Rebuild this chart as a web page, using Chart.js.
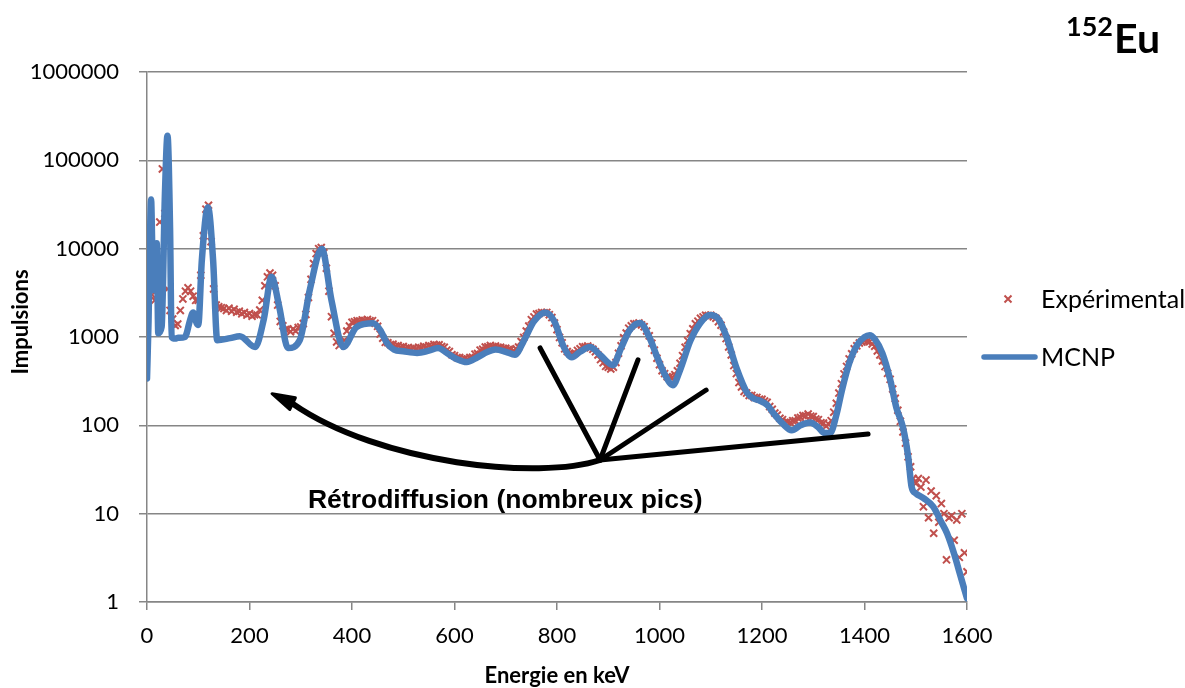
<!DOCTYPE html>
<html>
<head>
<meta charset="utf-8">
<script src="https://cdn.jsdelivr.net/npm/chart.js@4.4.1/dist/chart.umd.min.js"></script>
<style>
  html, body { margin: 0; padding: 0; background: #fff; }
  canvas { display: block; }
</style>
</head>
<body>
<canvas id="spectre" width="1185" height="688"></canvas>
<script>
// Experimental spectrum, one value every 5 keV from 0 to 1600 keV
const EXP_STEP_KEV = 5;
const expCounts = [
  10000, 4200, 3000, 2600, 3000, 20000, 80000, 25000, 3500, 2000,
  1600, 1350, 1400, 2000, 2700, 3300, 3600, 3300, 2900, 2600,
  2600, 5000, 14000, 28000, 31000, 12000, 3500, 2300, 2200, 2150,
  2100, 2000, 2120, 1960, 2060, 1910, 1960, 1830, 1900, 1770,
  1840, 1720, 1790, 1780, 2020, 2600, 3800, 4800, 5300, 5000,
  3800, 2300, 1500, 1340, 1220, 1230, 1150, 1230, 1170, 1280,
  1300, 1420, 1800, 2800, 4500, 6800, 8800, 10000, 10300, 9000,
  6000, 3300, 1700, 1100, 880, 800, 860, 920, 1170, 1330,
  1470, 1490, 1530, 1520, 1560, 1540, 1580, 1530, 1530, 1430,
  1320, 1080, 970, 870, 860, 820, 830, 790, 800, 770,
  780, 750, 760, 735, 750, 735, 765, 755, 785, 770,
  800, 790, 825, 810, 815, 780, 765, 710, 685, 630,
  615, 585, 585, 560, 570, 565, 585, 590, 640, 650,
  710, 725, 770, 775, 800, 780, 790, 765, 765, 745,
  745, 720, 725, 700, 735, 770, 890, 990, 1170, 1330,
  1570, 1690, 1820, 1840, 1900, 1880, 1900, 1790, 1660, 1440,
  1210, 990, 860, 735, 685, 650, 645, 655, 705, 735,
  775, 775, 790, 755, 725, 680, 625, 555, 510, 465,
  455, 435, 455, 515, 655, 795, 980, 1110, 1260, 1340,
  1410, 1410, 1440, 1370, 1310, 1170, 1030, 850, 710, 575,
  485, 415, 385, 355, 355, 345, 375, 415, 505, 615,
  765, 910, 1090, 1240, 1410, 1510, 1630, 1690, 1760, 1750,
  1760, 1690, 1630, 1490, 1360, 1140, 960, 770, 625, 475,
  385, 305, 272, 242, 232, 218, 218, 207, 207, 198,
  197, 188, 182, 163, 152, 138, 131, 120, 116, 108,
  109, 108, 113, 113, 121, 123, 129, 128, 134, 127,
  126, 118, 116, 107, 106, 98, 103, 113, 141, 178,
  232, 296, 382, 465, 565, 645, 735, 795, 855, 875,
  905, 895, 885, 835, 785, 695, 625, 535, 462, 388,
  332, 258, 202, 148, 111, 84, 63, 44, 34, 25,
  22, 25, 20, 12, 24, 9, 18, 6, 16, 8,
  13, 10, 3, 9, 9.5, 5, 8.5, 3.2, 10, 3.6,
  2.2
];

// MCNP simulation: energy (keV) and counts
const mcnpEnergy = [
  0, 3, 6, 8, 10, 12, 15, 19, 22, 28.5,
  35, 40, 45, 48, 55, 61, 74, 84, 90, 97,
  100, 107, 119, 129, 137, 162, 181, 211, 228, 243,
  258, 275, 298, 318, 341, 360, 383, 409, 441, 455,
  468, 482, 500, 527, 550, 568, 585, 605, 624, 645,
  665, 680, 700, 718, 735, 755, 777, 795, 812, 829,
  845, 864, 885, 909, 925, 942, 962, 980, 995, 1010,
  1026, 1040, 1060, 1080, 1098, 1115, 1131, 1150, 1171, 1185,
  1196, 1210, 1222, 1240, 1258, 1275, 1294, 1310, 1322, 1333,
  1345, 1356, 1370, 1385, 1400, 1410, 1420, 1435, 1450, 1462,
  1475, 1485, 1492, 1500, 1515, 1534, 1550, 1561, 1575, 1585,
  1600
];
const mcnpCounts = [
  340, 1500, 15000, 36000, 12000, 3400, 7000, 11500, 1100, 1300,
  42000, 190000, 17000, 1000, 960, 980, 1000, 1550, 1900, 1430,
  1370, 7400, 29500, 7400, 920, 970, 1020, 770, 1600, 4800,
  2200, 750, 920, 3500, 10000, 2600, 770, 1300, 1430, 1200,
  860, 720, 690, 660, 700, 750, 660, 560, 520, 590,
  680, 720, 680, 630, 900, 1500, 1900, 1500, 800, 590,
  680, 770, 620, 480, 750, 1200, 1440, 1000, 600, 380,
  285, 420, 900, 1450, 1780, 1600, 1000, 450, 233, 200,
  190, 170, 138, 105, 88, 100, 108, 95, 82, 82,
  130, 250, 500, 800, 1000, 1050, 950, 650, 330, 160,
  95, 45, 20, 17, 15, 12, 8, 6, 3.5, 2.2,
  1.1
];

const X_MIN = 0, X_MAX = 1600, X_STEP = 200;
const yTicks = [1, 10, 100, 1000, 10000, 100000, 1000000];

// "Rétrodiffusion" annotation, anchored in data space (keV, counts)
const retroHub = [884, 40.5];
const retroRays = [[767, 751], [958, 550], [1091, 251], [1407, 80]];
const retroCurve = [[767, 24], [455, 36], [284, 176]];
const retroArrowTip = [244, 228];
const retroLabel = 'Rétrodiffusion (nombreux pics)';
const retroLabelAt = [699, 11.6];

const RED = '#c0504d';
const BLUE = '#4a7ebb';
const GRID = '#868686';

const expPoints = expCounts.map((c, i) => ({ x: i * EXP_STEP_KEV, y: c }));
const mcnpPoints = mcnpEnergy.map((e, i) => ({ x: e, y: mcnpCounts[i] }));

const decorations = {
  id: 'decorations',
  afterDatasetsDraw(chart) {
    const { ctx, scales: { x, y } } = chart;
    const px = p => [x.getPixelForValue(p[0]), y.getPixelForValue(p[1])];
    ctx.save();
    ctx.strokeStyle = '#000';
    ctx.fillStyle = '#000';
    ctx.lineCap = 'round';
    ctx.lineWidth = 5;
    const hub = px(retroHub);
    retroRays.forEach(r => {
      const q = px(r);
      ctx.beginPath();
      ctx.moveTo(hub[0], hub[1]);
      ctx.lineTo(q[0], q[1]);
      ctx.stroke();
    });
    const c1 = px(retroCurve[0]), c2 = px(retroCurve[1]), c3 = px(retroCurve[2]);
    ctx.lineWidth = 6;
    ctx.beginPath();
    ctx.moveTo(hub[0], hub[1]);
    ctx.bezierCurveTo(c1[0], c1[1], c2[0], c2[1], c3[0], c3[1]);
    ctx.stroke();
    // arrow head
    const tip = px(retroArrowTip);
    const dx = tip[0] - c3[0], dy = tip[1] - c3[1];
    const len = Math.hypot(dx, dy);
    const nx = -dy / len * 6.5, ny = dx / len * 6.5;
    ctx.beginPath();
    ctx.moveTo(tip[0], tip[1]);
    ctx.lineTo(c3[0] + nx, c3[1] + ny);
    ctx.lineTo(c3[0] - nx, c3[1] - ny);
    ctx.closePath();
    ctx.lineWidth = 3;
    ctx.lineJoin = 'round';
    ctx.fill();
    ctx.stroke();

    ctx.font = 'bold 26.5px "Liberation Sans", Arial, sans-serif';
    ctx.textAlign = 'center';
    ctx.textBaseline = 'alphabetic';
    const lp = px(retroLabelAt);
    ctx.fillText(retroLabel, lp[0], lp[1]);
    ctx.restore();
  },
  afterDraw(chart) {
    const { ctx, chartArea } = chart;
    ctx.save();
    ctx.fillStyle = '#000';
    // axis titles
    ctx.font = 'bold 22px Lato, sans-serif';
    ctx.textAlign = 'center';
    ctx.textBaseline = 'middle';
    ctx.fillText('Energie en keV', (chartArea.left + chartArea.right) / 2, 676);
    ctx.save();
    ctx.translate(21, 322);
    ctx.rotate(-Math.PI / 2);
    ctx.fillText('Impulsions', 0, 0);
    ctx.restore();

    // title 152Eu
    ctx.textAlign = 'left';
    ctx.textBaseline = 'alphabetic';
    ctx.font = 'bold 27px Lato, sans-serif';
    ctx.fillText('152', 1066, 36);
    ctx.font = 'bold 41px Lato, sans-serif';
    ctx.fillText('Eu', 1114, 53);

    // legend
    ctx.font = '25px Lato, sans-serif';
    ctx.textBaseline = 'middle';
    ctx.fillText('Expérimental', 1041, 300);
    ctx.fillText('MCNP', 1041, 358);
    ctx.strokeStyle = RED;
    ctx.lineWidth = 2;
    ctx.beginPath();
    ctx.moveTo(1004.5, 295.5); ctx.lineTo(1011.5, 302.5);
    ctx.moveTo(1011.5, 295.5); ctx.lineTo(1004.5, 302.5);
    ctx.stroke();
    ctx.strokeStyle = BLUE;
    ctx.lineWidth = 5.5;
    ctx.lineCap = 'round';
    ctx.beginPath();
    ctx.moveTo(984, 357); ctx.lineTo(1035, 357);
    ctx.stroke();
    ctx.restore();
  }
};

new Chart(document.getElementById('spectre'), {
  type: 'line',
  data: {
    datasets: [
      {
        label: 'Expérimental',
        data: expPoints,
        showLine: false,
        pointStyle: 'crossRot',
        pointRadius: 5,
        pointBorderWidth: 2,
        pointBorderColor: RED,
        borderColor: RED,
        order: 2
      },
      {
        label: 'MCNP',
        data: mcnpPoints,
        borderColor: BLUE,
        borderWidth: 6.5,
        pointRadius: 0,
        cubicInterpolationMode: 'monotone',
        borderJoinStyle: 'round',
        borderCapStyle: 'round',
        fill: false,
        order: 1
      }
    ]
  },
  options: {
    responsive: false,
    animation: false,
    events: [],
    layout: { padding: { top: 72, right: 218, left: 0, bottom: 0 } },
    plugins: { legend: { display: false }, tooltip: { enabled: false } },
    scales: {
      x: {
        type: 'linear',
        min: X_MIN,
        max: X_MAX,
        ticks: {
          stepSize: X_STEP,
          color: '#000',
          padding: 13,
          font: { family: 'Lato', size: 22 },
          callback: v => String(v)
        },
        grid: { drawOnChartArea: false, color: GRID, lineWidth: 1.5, tickLength: 8 },
        border: { color: GRID, width: 1.5 },
        afterFit: s => { s.height = 86; }
      },
      y: {
        type: 'logarithmic',
        min: 1,
        max: 1000000,
        afterBuildTicks: s => { s.ticks = yTicks.map(v => ({ value: v })); },
        ticks: {
          color: '#000',
          padding: 20,
          font: { family: 'Lato', size: 22 },
          callback: v => String(v)
        },
        grid: { color: GRID, lineWidth: 1.5, tickLength: 8 },
        border: { color: GRID, width: 1.5 },
        afterFit: s => { s.width = 147; }
      }
    }
  },
  plugins: [decorations]
});
</script>
</body>
</html>
